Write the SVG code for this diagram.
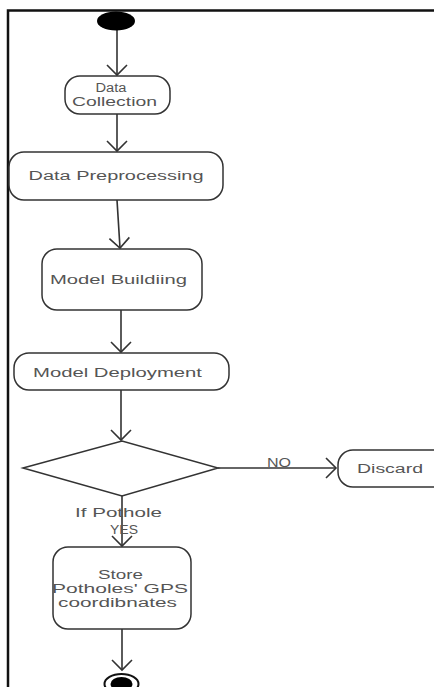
<svg xmlns="http://www.w3.org/2000/svg" width="434" height="687" viewBox="0 0 434 687">
<style>
.node{fill:#fff;stroke:#333;stroke-width:1.5}
.lbl{font-family:"Liberation Sans",Arial,sans-serif;font-size:12.5px;fill:#555;text-anchor:middle}
.edge{fill:none;stroke:#333;stroke-width:1.6}
</style>
<defs>
<marker id="arr" markerUnits="userSpaceOnUse" markerWidth="24" markerHeight="24" viewBox="-12 -12 24 24" refX="0" refY="0" orient="auto">
<path d="M-10,-10 L0,0 L-10,10" fill="none" stroke="#333" stroke-width="1.6"/>
</marker>
</defs>
<rect x="0" y="0" width="434" height="687" fill="#fff"/>
<path d="M8,687 L8,10.5 L434,10.5" fill="none" stroke="#111" stroke-width="2.5"/>
<g id="connectors">
<path class="edge" d="M117,30 L117,75" marker-end="url(#arr)"/>
<path class="edge" d="M117,114 L117,151" marker-end="url(#arr)"/>
<path class="edge" d="M117,200 L120,248" marker-end="url(#arr)"/>
<path class="edge" d="M121,310 L121,352" marker-end="url(#arr)"/>
<path class="edge" d="M121,390 L121,440" marker-end="url(#arr)"/>
<path class="edge" d="M218,468 L336,468" marker-end="url(#arr)"/>
<text class="lbl" x="279" y="467" font-size="11" textLength="24" lengthAdjust="spacingAndGlyphs">NO</text>
<path class="edge" d="M122,496 L122,546" marker-end="url(#arr)"/>
<text class="lbl" x="118.5" y="517" textLength="87" lengthAdjust="spacingAndGlyphs">If Pothole</text>
<text class="lbl" x="124" y="534" textLength="28" lengthAdjust="spacingAndGlyphs">YES</text>
<path class="edge" d="M122,629 L122,670" marker-end="url(#arr)"/>
</g>
<g id="start">
<ellipse cx="116" cy="21" rx="19" ry="9.5" fill="#000"/>
</g>
<g id="data-collection">
<rect class="node" x="65" y="76" width="105" height="38" rx="15"/>
<text class="lbl" x="111" y="92" textLength="31" lengthAdjust="spacingAndGlyphs">Data</text>
<text class="lbl" x="114.5" y="106" textLength="85" lengthAdjust="spacingAndGlyphs">Collection</text>
</g>
<g id="data-preprocessing">
<rect class="node" x="9" y="152" width="214" height="48" rx="15"/>
<text class="lbl" x="116" y="180" textLength="175" lengthAdjust="spacingAndGlyphs">Data Preprocessing</text>
</g>
<g id="model-building">
<rect class="node" x="42" y="249" width="160" height="61" rx="15"/>
<text class="lbl" x="118.5" y="284" textLength="137" lengthAdjust="spacingAndGlyphs">Model Buildiing</text>
</g>
<g id="model-deployment">
<rect class="node" x="14" y="353" width="215" height="37" rx="15"/>
<text class="lbl" x="117.5" y="377" textLength="169" lengthAdjust="spacingAndGlyphs">Model Deployment</text>
</g>
<g id="decision">
<path class="node" d="M23,468 L122,441 L218,468 L122,496 Z"/>
</g>
<g id="discard">
<rect class="node" x="338" y="450" width="110" height="37" rx="15"/>
<text class="lbl" x="390" y="473" textLength="66" lengthAdjust="spacingAndGlyphs">Discard</text>
</g>
<g id="store">
<rect class="node" x="53" y="547" width="138" height="82" rx="15"/>
<text class="lbl" x="120.5" y="579" textLength="45" lengthAdjust="spacingAndGlyphs">Store</text>
<text class="lbl" x="120" y="593" textLength="136" lengthAdjust="spacingAndGlyphs">Potholes' GPS</text>
<text class="lbl" x="117.5" y="607" textLength="119" lengthAdjust="spacingAndGlyphs">coordibnates</text>
</g>
<g id="end">
<ellipse cx="121.5" cy="684" rx="17" ry="10" fill="#fff" stroke="#111" stroke-width="2"/>
<ellipse cx="121.5" cy="684" rx="11" ry="7" fill="#000"/>
</g>
</svg>
